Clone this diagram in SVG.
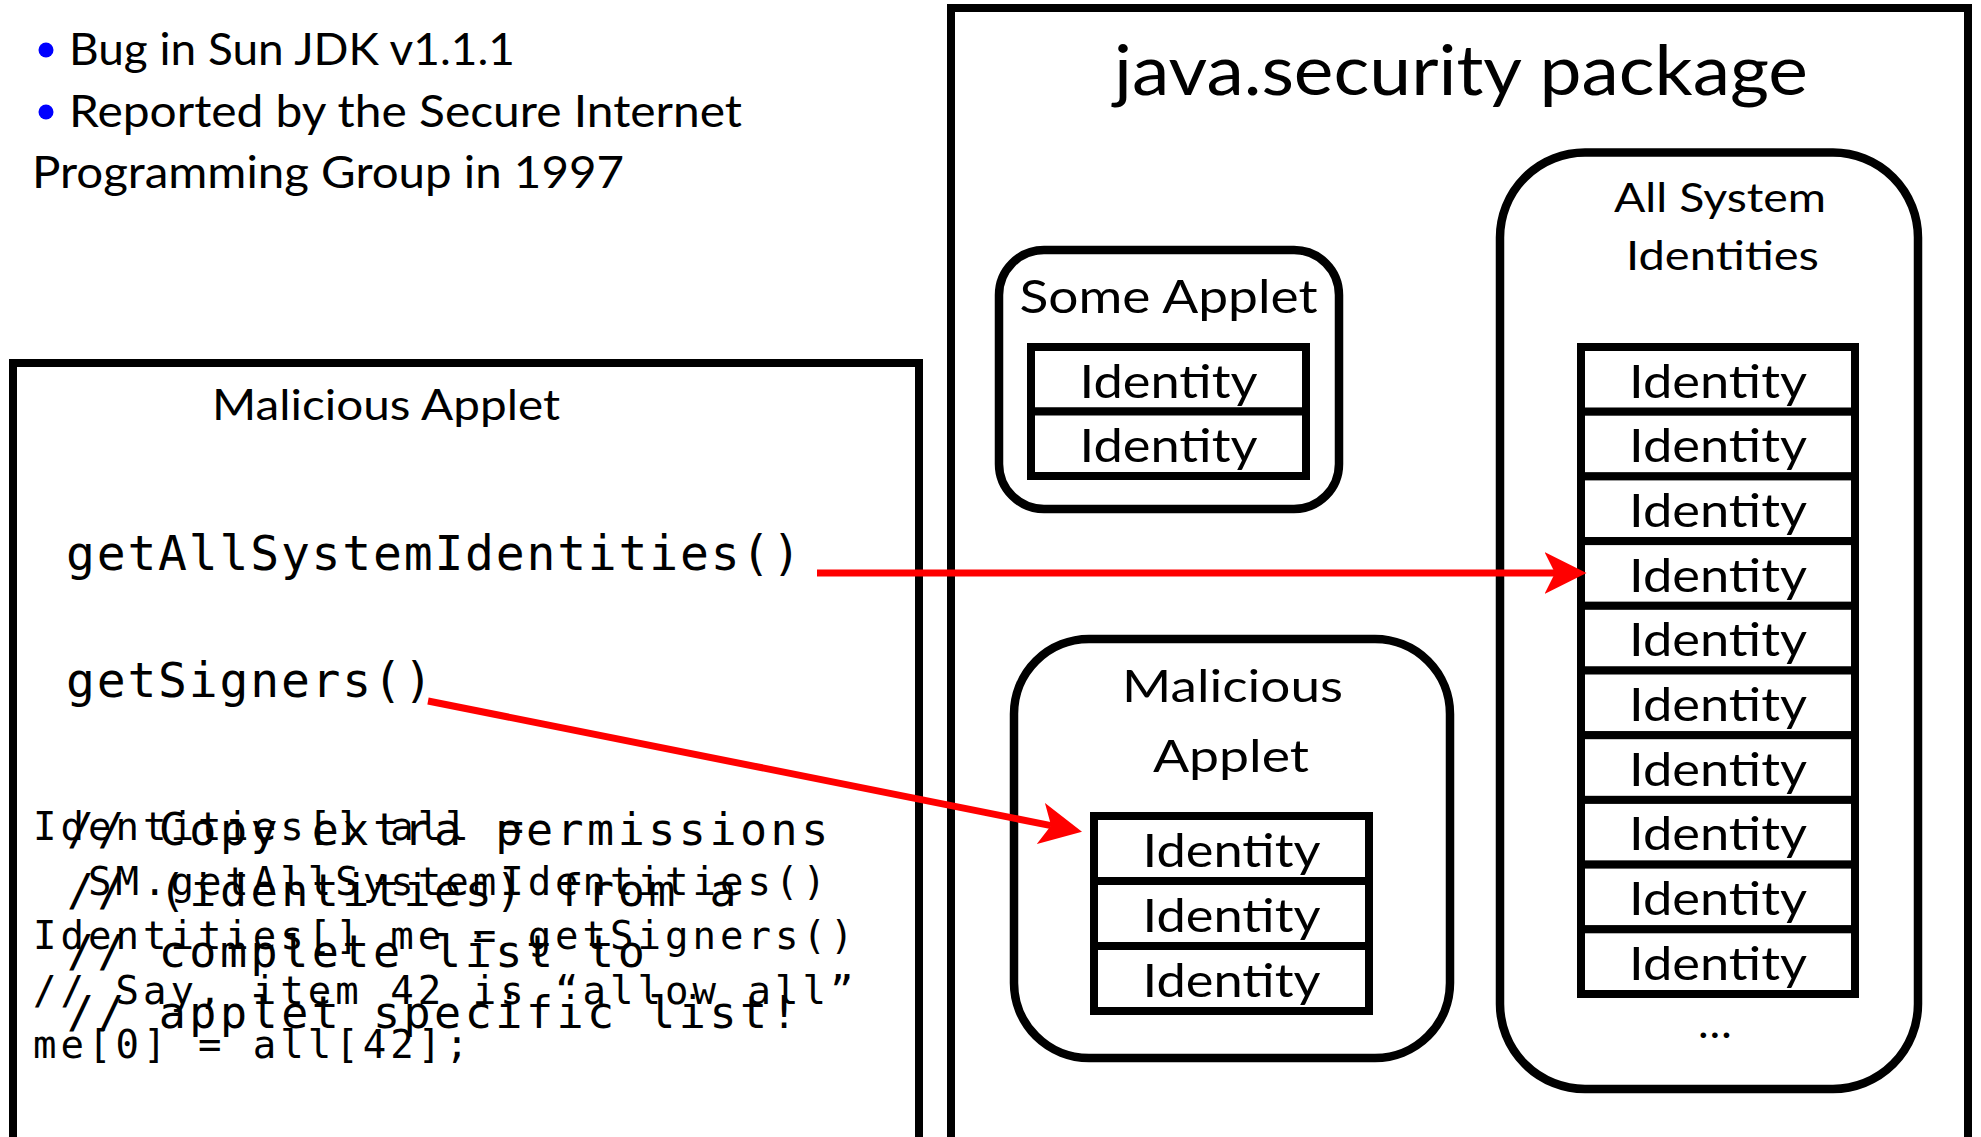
<svg xmlns="http://www.w3.org/2000/svg" width="1981" height="1137" viewBox="0 0 1981 1137">
<defs>
<style>
.frame{fill:none;stroke:#000;stroke-width:8}
.rbox{fill:#fff;stroke:#000;stroke-width:8.5}
.cell{fill:#fff;stroke:#000;stroke-width:8}
.sans{font-family:Lato,"Liberation Sans",sans-serif;fill:#000}
.mono{font-family:"DejaVu Sans Mono","Liberation Mono",monospace;fill:#000}
.id{font-size:46px;text-anchor:middle}
.conn{stroke:#f00;stroke-width:7;fill:none}
.c1{font-size:39px;letter-spacing:4px}
.c2{font-size:45px;letter-spacing:3.5px}
.c3{font-size:48px;letter-spacing:1.8px}
</style>
<marker id="ah" markerUnits="userSpaceOnUse" markerWidth="42" markerHeight="42" refX="10" refY="20" orient="auto" viewBox="0 0 40 40">
<path d="M0,0 L40,20 L0,40 L10,20 z" fill="#f00"/>
</marker>
</defs>
<rect width="1981" height="1137" fill="#fff"/>

<g id="notes">
<circle cx="46" cy="50" r="7.5" fill="#0000ff"/>
<circle cx="46" cy="112" r="7.5" fill="#0000ff"/>
<text class="sans" x="69" y="65" font-size="45" textLength="446" lengthAdjust="spacingAndGlyphs">Bug in Sun JDK v1.1.1</text>
<text class="sans" x="69" y="127" font-size="45" textLength="673" lengthAdjust="spacingAndGlyphs">Reported by the Secure Internet</text>
<text class="sans" x="32" y="188" font-size="45" textLength="592" lengthAdjust="spacingAndGlyphs">Programming Group in 1997</text>
</g>

<g id="malicious-applet-code">
<rect class="frame" x="13" y="363" width="906" height="780"/>
<text class="sans" x="386" y="420" font-size="42" text-anchor="middle" textLength="348" lengthAdjust="spacingAndGlyphs">Malicious Applet</text>
<text class="mono c3" x="66" y="570">getAllSystemIdentities()</text>
<text class="mono c3" x="66" y="697">getSigners()</text>
<text class="mono c1" x="33" y="840">Identities[] all =</text>
<text class="mono c1" x="33" y="894.5" xml:space="preserve">  SM.getAllSystemIdentities()</text>
<text class="mono c1" x="33" y="949">Identities[] me = getSigners()</text>
<text class="mono c1" x="33" y="1003.5">// Say, item 42 is “allow all”</text>
<text class="mono c1" x="33" y="1058">me[0] = all[42];</text>
<text class="mono c2" x="67" y="845">// Copy extra permissions</text>
<text class="mono c2" x="67" y="906">// (identities) from a</text>
<text class="mono c2" x="67" y="967">// complete list to</text>
<text class="mono c2" x="67" y="1028">// applet specific list!</text>
</g>

<g id="java-security-package">
<rect class="frame" x="951" y="8" width="1017" height="1135"/>
<text class="sans" x="1461" y="95" font-size="70" text-anchor="middle" textLength="694" lengthAdjust="spacingAndGlyphs">java.security package</text>
</g>

<g id="some-applet">
<rect class="rbox" x="999" y="250" width="340" height="259" rx="45"/>
<text class="sans" x="1168.5" y="313" font-size="46" text-anchor="middle" textLength="298" lengthAdjust="spacingAndGlyphs">Some Applet</text>
<rect class="cell" x="1031" y="347" width="275" height="64.5"/>
<rect class="cell" x="1031" y="411.5" width="275" height="64.5"/>
<text class="sans id" x="1168.5" y="397.5" textLength="178" lengthAdjust="spacingAndGlyphs">Identity</text>
<text class="sans id" x="1168.5" y="462" textLength="178" lengthAdjust="spacingAndGlyphs">Identity</text>
</g>

<g id="all-system-identities">
<rect class="rbox" x="1500" y="152.5" width="418" height="936.5" rx="85"/>
<text class="sans" x="1720" y="212" font-size="40" text-anchor="middle" textLength="212" lengthAdjust="spacingAndGlyphs">All System</text>
<text class="sans" x="1722.5" y="270" font-size="41" text-anchor="middle" textLength="193" lengthAdjust="spacingAndGlyphs">Identities</text>
<rect class="cell" x="1581" y="347" width="274" height="64.7"/>
<rect class="cell" x="1581" y="411.7" width="274" height="64.7"/>
<rect class="cell" x="1581" y="476.4" width="274" height="64.7"/>
<rect class="cell" x="1581" y="541.1" width="274" height="64.7"/>
<rect class="cell" x="1581" y="605.8" width="274" height="64.7"/>
<rect class="cell" x="1581" y="670.5" width="274" height="64.7"/>
<rect class="cell" x="1581" y="735.2" width="274" height="64.7"/>
<rect class="cell" x="1581" y="799.9" width="274" height="64.7"/>
<rect class="cell" x="1581" y="864.6" width="274" height="64.7"/>
<rect class="cell" x="1581" y="929.3" width="274" height="64.7"/>
<text class="sans id" x="1718" y="397.5" textLength="178" lengthAdjust="spacingAndGlyphs">Identity</text>
<text class="sans id" x="1718" y="462.2" textLength="178" lengthAdjust="spacingAndGlyphs">Identity</text>
<text class="sans id" x="1718" y="526.9" textLength="178" lengthAdjust="spacingAndGlyphs">Identity</text>
<text class="sans id" x="1718" y="591.6" textLength="178" lengthAdjust="spacingAndGlyphs">Identity</text>
<text class="sans id" x="1718" y="656.3" textLength="178" lengthAdjust="spacingAndGlyphs">Identity</text>
<text class="sans id" x="1718" y="721" textLength="178" lengthAdjust="spacingAndGlyphs">Identity</text>
<text class="sans id" x="1718" y="785.7" textLength="178" lengthAdjust="spacingAndGlyphs">Identity</text>
<text class="sans id" x="1718" y="850.4" textLength="178" lengthAdjust="spacingAndGlyphs">Identity</text>
<text class="sans id" x="1718" y="915.1" textLength="178" lengthAdjust="spacingAndGlyphs">Identity</text>
<text class="sans id" x="1718" y="979.8" textLength="178" lengthAdjust="spacingAndGlyphs">Identity</text>
<text class="sans" x="1715" y="1038" font-size="45" text-anchor="middle">…</text>
</g>

<g id="malicious-applet-identities">
<rect class="rbox" x="1014" y="639" width="436" height="419" rx="75"/>
<text class="sans" x="1232.5" y="702" font-size="45" text-anchor="middle" textLength="221" lengthAdjust="spacingAndGlyphs">Malicious</text>
<text class="sans" x="1231" y="772" font-size="45" text-anchor="middle" textLength="156" lengthAdjust="spacingAndGlyphs">Applet</text>
<rect class="cell" x="1094" y="816" width="275" height="65"/>
<rect class="cell" x="1094" y="881" width="275" height="65"/>
<rect class="cell" x="1094" y="946" width="275" height="65"/>
<text class="sans id" x="1231.5" y="867" textLength="178" lengthAdjust="spacingAndGlyphs">Identity</text>
<text class="sans id" x="1231.5" y="932" textLength="178" lengthAdjust="spacingAndGlyphs">Identity</text>
<text class="sans id" x="1231.5" y="997" textLength="178" lengthAdjust="spacingAndGlyphs">Identity</text>
</g>

<g id="connectors">
<line class="conn" x1="817" y1="573" x2="1555" y2="573" marker-end="url(#ah)"/>
<line class="conn" x1="428" y1="701" x2="1051.1" y2="825.6" marker-end="url(#ah)"/>
</g>
</svg>
